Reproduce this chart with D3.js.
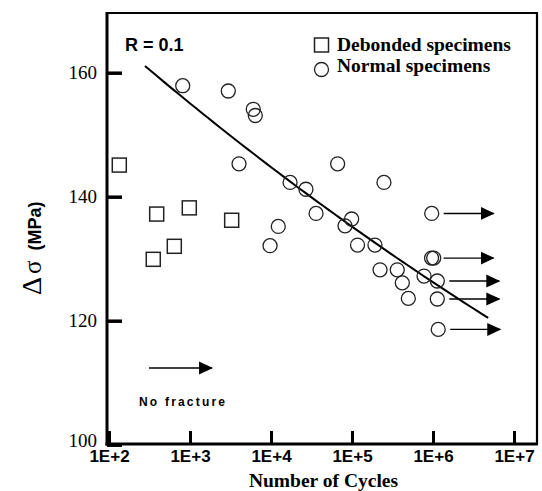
<!DOCTYPE html>
<html>
<head>
<meta charset="utf-8">
<script src="https://cdn.jsdelivr.net/npm/d3@7"></script>
<style>
  html, body { margin: 0; padding: 0; background: #fff; }
  svg { display: block; }
</style>
</head>
<body>
<svg id="chart" width="542" height="491"></svg>
<script>
// ---------------- DATA ----------------
const xTicks = [1e2, 1e3, 1e4, 1e5, 1e6, 1e7];
const xTickLabels = ["1E+2", "1E+3", "1E+4", "1E+5", "1E+6", "1E+7"];
const yTicks = [100, 120, 140, 160];
const yTickLabels = ["100", "120", "140", "160"];

// Debonded specimens (squares)
const debondedCycles = [134, 388, 980, 3270, 640, 352];
const debondedStress = [145.1, 137.2, 138.2, 136.2, 132.0, 129.9];

// Normal specimens (circles)
const normalCycles = [813, 2970, 6040, 6400, 4030, 17200, 27000, 12300, 9730, 66500,
                      248000, 36000, 99000, 82000, 117000, 192000, 222000, 362000, 418000, 775000,
                      496000, 964000, 960000, 1020000, 1130000, 1130000, 1160000];
const normalStress = [157.9, 157.05, 154.1, 153.1, 145.3, 142.3, 141.2, 135.2, 132.1, 145.3,
                      142.3, 137.3, 136.4, 135.3, 132.2, 132.2, 128.2, 128.2, 126.1, 127.2,
                      123.6, 137.3, 130.1, 130.1, 126.4, 123.5, 118.6];
// 1 = run-out (no fracture, arrow drawn)
const normalRunout = [0, 0, 0, 0, 0, 0, 0, 0, 0, 0,
                      0, 0, 0, 0, 0, 0, 0, 0, 0, 0,
                      0, 1, 1, 0, 1, 1, 1];

// Power-law fit  S = A * N^b  (R = 0.1)
const fitA = 190.5;
const fitB = -0.0298;
const fitRange = [278, 4.8e6];

const xTitle = "Number of Cycles";
const rLabel = "R = 0.1";
const legendLabels = ["Debonded specimens", "Normal specimens"];
const noFractureLabel = "No fracture";

// ---------------- LAYOUT ----------------
const frame = { left: 107, right: 537, top: 13, bottom: 444 };
const svg = d3.select("#chart");

const x = d3.scaleLog().domain([1e2, 1e7]).range([109, 514]);
const y = d3.scaleLinear().domain([100, 160]).range([444.7, 72.7]);

const defs = svg.append("defs");
defs.append("marker")
  .attr("id", "ah")
  .attr("markerUnits", "userSpaceOnUse")
  .attr("markerWidth", 14).attr("markerHeight", 14)
  .attr("refX", 13).attr("refY", 7)
  .attr("orient", "auto")
  .append("path")
  .attr("d", "M0,0.5 L14,7 L0,13.5 Z")
  .attr("fill", "#000");

// Axes (ticks inward)
const gx = svg.append("g")
  .attr("transform", `translate(0,${frame.bottom})`)
  .call(d3.axisBottom(x).tickValues(xTicks).tickSize(-13).tickPadding(5)
    .tickFormat((d, i) => xTickLabels[i]));
gx.select(".domain").remove();
gx.selectAll(".tick line").attr("stroke", "#000").attr("stroke-width", 3);
gx.selectAll(".tick text")
  .attr("fill", "#000")
  .style("font-family", "'Liberation Sans', Arial, sans-serif")
  .style("font-weight", "bold")
  .style("font-size", "17px")
  .attr("dy", "0.74em");

const gy = svg.append("g")
  .attr("transform", `translate(${frame.left},0)`)
  .call(d3.axisLeft(y).tickValues(yTicks).tickSize(-15).tickPadding(10)
    .tickFormat((d, i) => yTickLabels[i]));
gy.select(".domain").remove();
gy.selectAll(".tick line").attr("stroke", "#000").attr("stroke-width", 3.5);
gy.selectAll(".tick text")
  .attr("fill", "#000")
  .style("font-family", "'Liberation Serif', 'Times New Roman', serif")
  .style("font-size", "19px")
  .attr("dy", (d) => d === 100 ? "0.12em" : "0.32em");

// Frame
svg.append("line").attr("x1", frame.left).attr("x2", frame.right)
  .attr("y1", frame.top).attr("y2", frame.top).attr("stroke", "#000").attr("stroke-width", 2.2);
svg.append("line").attr("x1", frame.right).attr("x2", frame.right)
  .attr("y1", frame.top - 1).attr("y2", frame.bottom).attr("stroke", "#000").attr("stroke-width", 2.2);
svg.append("line").attr("x1", frame.left).attr("x2", frame.left)
  .attr("y1", frame.top - 1).attr("y2", frame.bottom + 1.5).attr("stroke", "#000").attr("stroke-width", 3);
svg.append("line").attr("x1", frame.left - 1.5).attr("x2", frame.right + 1)
  .attr("y1", frame.bottom).attr("y2", frame.bottom).attr("stroke", "#000").attr("stroke-width", 3);

// Fit line
const fitPts = d3.range(0, 61).map(i => {
  const u = Math.log10(fitRange[0]) + i / 60 * (Math.log10(fitRange[1]) - Math.log10(fitRange[0]));
  const n = Math.pow(10, u);
  return [n, fitA * Math.pow(n, fitB)];
});
svg.append("path")
  .datum(fitPts)
  .attr("fill", "none").attr("stroke", "#000").attr("stroke-width", 2)
  .attr("d", d3.line().x(d => x(d[0])).y(d => y(d[1])));

// Normal specimens
const normal = normalCycles.map((n, i) => ({ n, s: normalStress[i], r: normalRunout[i] }));
const circR = 7;
svg.append("g").selectAll("circle").data(normal).join("circle")
  .attr("cx", d => x(d.n)).attr("cy", d => y(d.s)).attr("r", circR)
  .attr("fill", "none").attr("stroke", "#222").attr("stroke-width", 1.3);

// Run-out arrows
svg.append("g").selectAll("line").data(normal.filter(d => d.r === 1)).join("line")
  .attr("x1", d => x(d.n) + 12).attr("x2", d => x(d.n) + 62)
  .attr("y1", d => y(d.s)).attr("y2", d => y(d.s))
  .attr("stroke", "#000").attr("stroke-width", 1.4)
  .attr("marker-end", "url(#ah)");

// Debonded specimens
const debonded = debondedCycles.map((n, i) => ({ n, s: debondedStress[i] }));
const sq = 14;
svg.append("g").selectAll("rect").data(debonded).join("rect")
  .attr("x", d => x(d.n) - sq / 2).attr("y", d => y(d.s) - sq / 2)
  .attr("width", sq).attr("height", sq)
  .attr("fill", "none").attr("stroke", "#222").attr("stroke-width", 1.5);

// R label
svg.append("text").attr("x", 125).attr("y", 50.5)
  .style("font-family", "'Liberation Sans', Arial, sans-serif")
  .style("font-weight", "bold").style("font-size", "18px")
  .text(rLabel);

// Legend
svg.append("rect").attr("x", 314.5).attr("y", 38).attr("width", 14).attr("height", 14)
  .attr("fill", "none").attr("stroke", "#222").attr("stroke-width", 1.5);
svg.append("circle").attr("cx", 321.5).attr("cy", 69.5).attr("r", 7)
  .attr("fill", "none").attr("stroke", "#222").attr("stroke-width", 1.3);
legendLabels.forEach((t, i) => {
  svg.append("text").attr("x", 337).attr("y", 50.7 + i * 21)
    .style("font-family", "'Liberation Serif', 'Times New Roman', serif")
    .style("font-weight", "bold").style("font-size", "19.5px")
    .text(t);
});

// No fracture legend
svg.append("line").attr("x1", 149).attr("x2", 212).attr("y1", 368).attr("y2", 368)
  .attr("stroke", "#000").attr("stroke-width", 1.4).attr("marker-end", "url(#ah)");
svg.append("text").attr("x", 139).attr("y", 406)
  .style("font-family", "'Liberation Sans', Arial, sans-serif")
  .style("font-weight", "bold").style("font-size", "12px")
  .style("letter-spacing", "2.2px")
  .text(noFractureLabel);

// Axis titles
svg.append("text").attr("x", 323.5).attr("y", 486.5).attr("text-anchor", "middle")
  .style("font-family", "'Liberation Serif', 'Times New Roman', serif")
  .style("font-weight", "bold").style("font-size", "19.5px")
  .text(xTitle);

const yt = svg.append("text")
  .attr("transform", "translate(41,295) rotate(-90)")
  .attr("text-anchor", "start");
yt.append("tspan")
  .style("font-family", "'Liberation Serif', 'Times New Roman', serif")
  .style("font-size", "28px")
  .text("Δ");
yt.append("tspan").attr("dx", 3)
  .style("font-family", "'Liberation Serif', 'Times New Roman', serif")
  .style("font-size", "25px")
  .text("σ");
yt.append("tspan").attr("dx", 10)
  .style("font-family", "'Liberation Sans', Arial, sans-serif")
  .style("font-weight", "bold")
  .style("font-size", "18px")
  .text("(MPa)");
</script>
</body>
</html>
